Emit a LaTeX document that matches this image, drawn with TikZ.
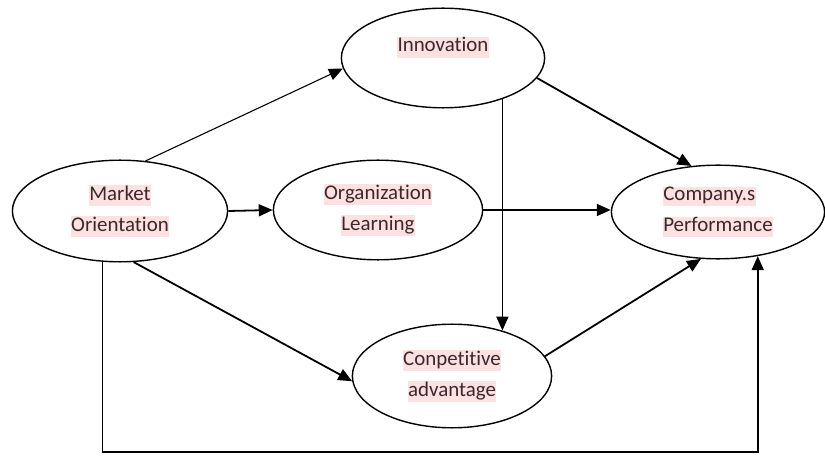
\documentclass[tikz,border=0pt]{standalone}
\usepackage{fontspec}
\setmainfont{Carlito}[Ligatures={NoCommon,NoDiscretionary,NoContextual}]
\usetikzlibrary{shapes.geometric,arrows.meta}
\definecolor{hlpink}{RGB}{253,224,224}
\definecolor{txt}{RGB}{58,40,46}
\newcommand{\hl}[1]{{\setlength{\fboxsep}{0.5pt}\colorbox{hlpink}{\rule[-0.24em]{0pt}{0.86em}#1}}}
\tikzset{
    var/.style={ellipse, draw, line width=1.4pt, inner sep=0pt, align=center,
        text=txt, font=\fontsize{21}{31}\selectfont},
    link/.style={line width=1.8pt, -{Triangle[length=14pt,width=12pt]}}
}
\begin{document}
\begin{tikzpicture}[x=1bp,y=-1bp]
    \useasboundingbox (0,0) rectangle (825,459);

    \node[var, minimum width=216, minimum height=102](mo)    at (120,211) {\hl{Market}\\\hl{Orientation}};
    \node[var, minimum width=204, minimum height=100](inno)  at (443,58)  {\hl{Innovation}\\[-4pt]\mbox{}};
    \node[var, minimum width=210, minimum height=100](org)   at (378,210) {\hl{Organization}\\\hl{Learning}};
    \node[var, minimum width=214, minimum height=94, align=left](perf) at (718,212) {\hl{Company.s}\\\hl{Performance}};
    \node[var, minimum width=200, minimum height=104](comp)  at (452,376) {\hl{Conpetitive}\\\hl{advantage}};

    \draw [link, line width=1.1pt] (mo.63)  -- (inno.186);
    \draw [link] (mo.east)  -- (org.west);
    \draw [link] (mo.-75)   -- (comp.183);
    \draw [link] (inno.-12) -- (perf.120);
    \draw [link] (comp.42 |- inno.-35) -- (comp.42);
    \draw [link] (org.east) -- (org.east -| perf.west);
    \draw [link] (comp.12)  -- (perf.250);

    \coordinate (low) at (0,452);
    \draw [link] (mo.251) |- (low -| perf.-48) -- (perf.-48);
\end{tikzpicture}
\end{document}
